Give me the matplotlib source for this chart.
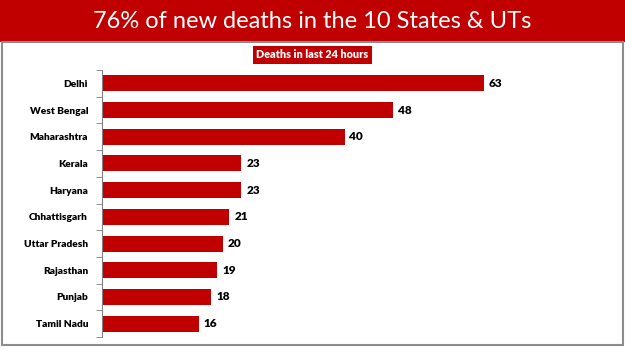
import matplotlib.pyplot as plt
from matplotlib.patches import Rectangle
import numpy as np

states = ['Delhi', 'West Bengal', 'Maharashtra', 'Kerala', 'Haryana',
          'Chhattisgarh', 'Uttar Pradesh', 'Rajasthan', 'Punjab', 'Tamil Nadu']
deaths = [63, 48, 40, 23, 23, 21, 20, 19, 18, 16]

RED = '#c00000'
plt.rcParams['font.family'] = ['Lato', 'DejaVu Sans']

fig = plt.figure(figsize=(6.25, 3.51), dpi=100, facecolor='w')

# header band and panel border
fig.patches.append(Rectangle((0, 1 - 42 / 351), 1, 42 / 351, transform=fig.transFigure,
                             facecolor=RED, edgecolor='none', zorder=0))
fig.patches.append(Rectangle((2 / 625, 1 - 345 / 351), 621 / 625, 303 / 351,
                             transform=fig.transFigure, facecolor='none',
                             edgecolor='#8c8c8c', lw=1.5, zorder=1))
fig.text(0.5, 1 - 21 / 351, '76% of new deaths in the 10 States & UTs', color='w',
         ha='center', va='center', fontsize=17)
fig.text(0.5, 1 - 55 / 351, 'Deaths in last 24 hours', color='w', ha='center',
         va='center', fontsize=7.8, fontweight='heavy',
         bbox=dict(boxstyle='square,pad=0.35', facecolor=RED, edgecolor='none'))

ax = fig.add_axes([102 / 625, 14 / 351, 485 / 625, 267 / 351])
y = np.arange(len(states))
ax.barh(y, deaths, height=0.6, color=RED)
for yi, v in zip(y, deaths):
    ax.text(v + 0.8, yi, str(v), va='center', ha='left', fontsize=8.5, fontweight='heavy')

ax.set_xlim(0, 80)
ax.set_ylim(len(states) - 0.5, -0.5)
ax.set_yticks(y)
ax.set_yticklabels(states, fontsize=7.3, fontweight='heavy')
ax.set_yticks(np.arange(-0.5, len(states)), minor=True)
ax.tick_params(axis='y', which='major', length=0, pad=10)
ax.tick_params(axis='y', which='minor', length=4, color='#808080', direction='out')
ax.set_xticks([])
for spine in ('top', 'right', 'bottom'):
    ax.spines[spine].set_visible(False)
ax.spines['left'].set_color('#808080')

fig.savefig('out.png', dpi=100)
